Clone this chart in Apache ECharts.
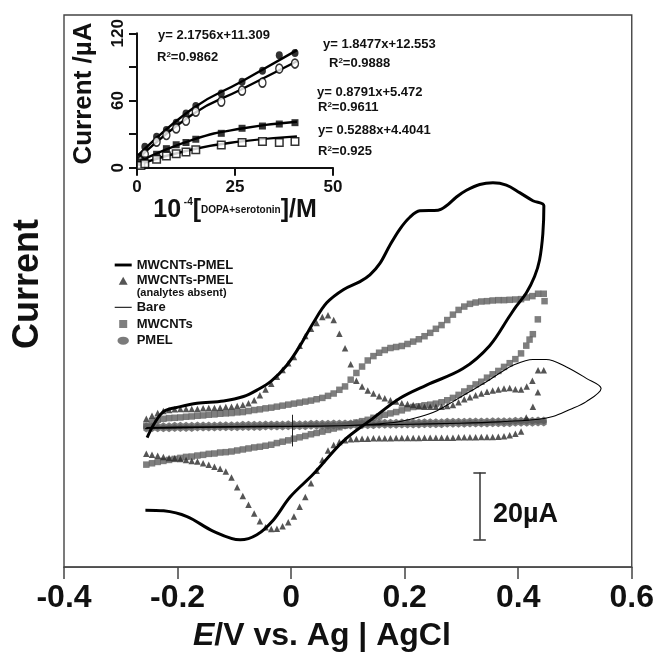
<!DOCTYPE html>
<html><head><meta charset="utf-8">
<script src="https://cdn.jsdelivr.net/npm/echarts@6/dist/echarts.min.js"></script>
<style>html,body{margin:0;padding:0;background:#fff}#c{width:657px;height:657px}</style>
</head><body><div id="c"></div><script>
const FONT = "'Liberation Sans', Arial, Helvetica, sans-serif";

// ---------- main CV plot ----------
const xTicks = [-0.4, -0.2, 0, 0.2, 0.4, 0.6];
const yRange = [-41.4, 122.4]; // µA

// thick line: MWCNTs-PMEL (with analytes), [E (V), I (µA)] in scan order
const cvMwcntPmel = [
 [-0.2536,-3.0],[-0.2420,0.9],[-0.2244,4.8],[-0.1951,6.2],[-0.1657,7.2],[-0.1190,7.9],[-0.0838,9.2],
 [-0.0603,11.1],[-0.0351,13.8],[-0.0076,18.5],[0.0158,24.3],[0.0392,31.1],[0.0627,37.0],[0.0919,40.9],
 [0.1213,43.3],[0.1388,45.3],[0.1564,48.7],[0.1740,54.1],[0.1916,58.9],[0.2091,62.4],[0.2267,64.3],
 [0.2589,64.5],[0.2736,65.8],[0.2912,68.4],[0.3088,70.4],[0.3322,72.1],[0.3555,72.6],[0.3791,71.9],
 [0.4025,69.7],[0.4258,67.3],[0.4452,65.8],
 [0.4434,57.5],[0.4376,49.7],[0.4288,44.8],[0.4142,39.9],[0.3967,36.0],[0.3849,33.1],[0.3497,24.3],
 [0.3028,17.5],[0.2385,12.6],[0.1916,8.7],[0.1446,2.8],[0.0919,-4.0],[0.0392,-13.8],[-0.0018,-20.6],
 [-0.0311,-27.4],[-0.0603,-31.8],[-0.0896,-33.3],[-0.1366,-30.8],[-0.1833,-26.4],[-0.2244,-24.7],[-0.2566,-24.5]
];

// potential grid of the marker series (V)
const scanV = [-0.255,-0.245,-0.235,-0.225,-0.215,-0.205,-0.195,-0.185,-0.175,-0.165,
 -0.155,-0.145,-0.135,-0.125,-0.115,-0.105,-0.095,-0.085,-0.075,-0.065,
 -0.055,-0.045,-0.035,-0.025,-0.015,-0.005,0.005,0.015,0.025,0.035,
 0.045,0.055,0.065,0.075,0.085,0.095,0.105,0.115,0.125,0.135,
 0.145,0.155,0.165,0.175,0.185,0.195,0.205,0.215,0.225,0.235,
 0.245,0.255,0.265,0.275,0.285,0.295,0.305,0.315,0.325,0.335,
 0.345,0.355,0.365,0.375,0.385,0.395,0.405,0.415,0.425,0.435,0.445];

// triangles: MWCNTs-PMEL, analytes absent
const triFwd = [2.6,3.5,4.3,4.9,5.2,5.4,5.5,5.5,5.5,5.5,
 5.7,5.8,5.8,5.9,6.1,6.2,6.4,6.7,7.2,8.1,
 9.6,11.3,13.0,15.1,17.1,19.1,20.9,24.3,27.2,29.3,
 31.0,32.8,33.3,31.9,27.8,23.5,18.8,13.9,12.2,11.0,
 10.1,9.3,8.7,8.1,7.7,7.2,7.0,6.7,6.4,6.2,
 6.2,6.2,6.2,6.4,6.7,7.5,8.4,9.0,9.6,10.1,
 10.6,11.0,11.3,11.6,11.7,11.4,11.3,12.2,13.9,17.0,17.0];
const triVertex = [[0.4346,10.5],[0.4258,6.2],[0.4142,3.0]];
const triRev = [-1.2,-1.8,-2.3,-2.6,-2.7,-2.8,-2.8,-2.8,-2.9,-2.9,
 -2.9,-2.9,-3.0,-3.0,-3.0,-3.0,-3.0,-3.0,-3.1,-3.1,
 -3.1,-3.1,-3.1,-3.2,-3.2,-3.2,-3.2,-3.3,-3.3,-3.4,
 -3.5,-3.8,-4.3,-5.2,-6.8,-9.6,-12.8,-16.5,-20.6,-23.5,
 -26.4,-28.1,-29.3,-30.0,-30.1,-29.6,-27.8,-25.5,-22.9,-20.3,
 -17.7,-14.8,-13.0,-12.2,-11.6,-11.0,-10.6,-10.1,-9.9,-9.6,
 -9.3,-9.1,-9.0,-8.7,-8.4,-8.1,-7.8];

// squares: MWCNTs
const sqFwd = [0.6,1.7,2.3,2.6,2.8,2.9,3.0,3.2,3.3,3.5,
 3.6,3.8,3.9,4.1,4.2,4.3,4.5,4.6,4.9,5.2,
 5.4,5.7,5.9,6.2,6.5,6.8,7.1,7.4,7.7,8.0,
 8.4,8.8,9.4,10.1,11.2,12.2,14.2,16.2,18.1,19.9,
 21.2,22.2,23.0,23.6,23.9,24.2,24.8,25.5,26.2,27.1,
 28.1,29.3,30.4,31.9,33.5,34.9,35.9,36.7,37.1,37.4,
 37.5,37.7,37.8,37.8,37.9,38.0,38.1,38.6,39.0,39.7,39.7];
const sqVertex = [[0.4464,37.5],[0.4346,32.1],[0.4258,27.7],[0.4200,26.1],[0.4142,24.3]];
const sqRev = [22.0,20.3,19.1,18.0,16.8,15.8,14.8,13.6,12.8,11.7,
 10.7,9.7,8.8,8.1,7.5,7.1,6.8,6.6,6.3,6.1,
 5.7,5.1,4.6,4.2,3.8,3.3,2.9,2.3,1.9,1.5,
 1.0,0.6,0.1,-0.3,-0.7,-1.2,-1.6,-2.0,-2.5,-2.9,
 -3.3,-3.8,-4.2,-4.6,-5.1,-5.4,-5.7,-5.9,-6.2,-6.5,
 -6.8,-7.1,-7.3,-7.4,-7.7,-7.8,-8.1,-8.3,-8.6,-8.7,
 -9.0,-9.3,-9.6,-9.9,-10.2,-10.6,-11.0];

// PMEL markers
const pmelFwd = [0.3,0.3,0.4,0.4,0.4,0.5,0.5,0.5,0.5,0.6,
 0.6,0.6,0.6,0.7,0.7,0.7,0.7,0.8,0.8,0.8,
 0.8,0.9,0.9,0.9,0.9,1.0,1.0,1.0,1.0,1.1,
 1.1,1.1,1.1,1.2,1.2,1.2,1.2,1.3,1.3,1.3,
 1.3,1.4,1.4,1.4,1.4,1.5,1.5,1.5,1.5,1.6,
 1.6,1.6,1.6,1.7,1.7,1.7,1.7,1.8,1.8,1.8,
 1.8,1.9,1.9,1.9,1.9,2.0,2.0,2.0,2.0,2.1,2.1];
const pmelRev = [1.5,1.5,1.4,1.4,1.4,1.4,1.3,1.3,1.3,1.3,
 1.2,1.2,1.2,1.2,1.1,1.1,1.1,1.1,1.0,1.0,
 1.0,1.0,0.9,0.9,0.9,0.9,0.8,0.8,0.8,0.8,
 0.7,0.7,0.7,0.7,0.6,0.6,0.6,0.6,0.5,0.5,
 0.5,0.5,0.4,0.4,0.4,0.4,0.3,0.3,0.3,0.3,
 0.2,0.2,0.2,0.2,0.1,0.1,0.1,0.1,0.0,0.0,
 0.0,0.0,-0.1,-0.1,-0.1,-0.1,-0.2,-0.2,-0.2,-0.2,-0.3];

// thin line: bare electrode
const cvBare = [
 [-0.255,0.0],[-0.2,0.15],[-0.1,0.3],[0.0,0.4],[0.1,0.6],[0.156,1.1],[0.192,1.8],[0.227,3.2],
 [0.257,5.0],[0.285,7.7],[0.315,10.7],[0.344,13.6],[0.367,16.1],[0.391,18.5],[0.426,20.2],
 [0.449,20.2],[0.485,18.0],[0.520,14.6],[0.546,11.6],
 [0.520,7.7],[0.490,5.3],[0.461,3.3],[0.426,2.3],[0.367,1.7],[0.297,1.3],[0.192,0.9],
 [0.104,0.6],[-0.002,0.3],[-0.16,0.0],[-0.257,-0.3]
];

// scale bar (20 µA) and small tick at E = 0
const scaleBarX = 0.332, scaleBarY = [-13.3, -33.3], scaleCap = 0.011;
const zeroTickY = [3.8, -5.6];

// ---------- inset ----------
const concX = [1, 2, 5, 7.5, 10, 12.5, 15, 21.5, 26.8, 32, 36.3, 40.3];
const filledCircleY = [10, 18.7, 27.6, 33.6, 40.2, 48.5, 55.1, 66.3, 76.7, 86.5, 100.4, 102.5];
const openCircleY   = [6, 12, 23.2, 29.2, 35.1, 41.9, 50, 59, 68.8, 75.9, 88.5, 93];
const filledSquareY = [5, 7, 12, 17, 20.5, 22.5, 25.4, 30.7, 35.2, 37.2, 39, 40.2];
const openSquareY   = [2, 3.5, 7.5, 10.5, 12.5, 14, 16, 20.3, 22.4, 23.3, 22.4, 23.3];
const fitFilledCircle = [[0.3,11],[14.3,53],[26.7,77],[40.8,105]];
const fitOpenCircle   = [[0.3,8],[14.3,48],[26.7,70],[40.8,95]];
const fitFilledSquare = [[0.3,5],[14.3,25],[26.7,35],[40.8,41]];
const fitOpenSquare   = [[0.3,3],[14.3,16.5],[26.7,23.5],[40.8,28]];
const equations = [
 ['y= 2.1756x+11.309', 158, 35], ['R{s|2}=0.9862', 157, 57],
 ['y= 1.8477x+12.553', 323, 44], ['R{s|2}=0.9888', 329, 63],
 ['y= 0.8791x+5.472', 317, 92], ['R{s|2}=0.9611', 318, 107.5],
 ['y= 0.5288x+4.4041', 318, 130.5], ['R{s|2}=0.925', 318, 151]
];

const zip = (xs, ys) => xs.map((x, i) => [x, ys[i]]);
const triData = zip(scanV, triFwd).concat(triVertex, zip(scanV.slice(0, triRev.length).reverse(), triRev));
const sqData = zip(scanV, sqFwd).concat(sqVertex, zip(scanV.slice(0, sqRev.length).reverse(), sqRev));
const pmelData = zip(scanV, pmelFwd).concat(zip(scanV.slice().reverse(), pmelRev));

const hexagon = 'path://M0,-1L0.8,-0.5L0.8,0.5L0,1L-0.8,0.5L-0.8,-0.5Z';
const bold = {fontFamily: FONT, fontWeight: 'bold', color: '#111'};
const segStyle = {color: '#333', width: 1.5, type: 'solid'};

const chart = echarts.init(document.getElementById('c'), null, {renderer: 'canvas'});
chart.setOption({
  animation: false,
  backgroundColor: '#fff',
  grid: [
    {left: 63.3, top: 15, width: 569, height: 565, show: true, borderColor: '#444', borderWidth: 1.4},
    {left: 137, top: 33.3, width: 196, height: 134.4}
  ],
  legend: [
    {orient: 'vertical', left: 114.7, top: 258, padding: 0, itemGap: 1.7, itemWidth: 17, itemHeight: 8,
     selectedMode: false,
     textStyle: Object.assign({fontSize: 13, lineHeight: 14}, bold),
     formatter: n => n.indexOf('absent') >= 0 ? 'MWCNTs-PMEL' : n,
     data: [{name: 'MWCNTs-PMEL', icon: 'path://M0,0h20v3.4h-20z'},
            {name: 'MWCNTs-PMEL (analytes absent)', icon: 'path://M5,0L10,9H0Z'}]},
    {orient: 'vertical', left: 114.7, top: 300.3, padding: 0, itemGap: 2.7, itemWidth: 17, itemHeight: 8,
     selectedMode: false,
     textStyle: Object.assign({fontSize: 13, lineHeight: 14}, bold),
     data: [{name: 'Bare', icon: 'path://M0,0h20v1.2h-20z'},
            {name: 'MWCNTs', icon: 'path://M0,0h8v8h-8z'},
            {name: 'PMEL', icon: 'path://M0,3.5a5,3.5 0 1,0 10,0a5,3.5 0 1,0 -10,0z'}]}
  ],
  xAxis: [
    {type: 'value', gridIndex: 0, min: xTicks[0], max: xTicks[xTicks.length - 1], interval: 0.2,
     axisLine: {show: true, onZero: false, lineStyle: {color: '#444', width: 1.5}},
     axisTick: {show: true, length: 12, lineStyle: {color: '#444', width: 1.5}},
     axisLabel: Object.assign({fontSize: 32, lineHeight: 34, margin: 14,
       formatter: v => (Math.abs(v) < 1e-9 ? '0' : String(+v.toFixed(1)))}, bold),
     splitLine: {show: false},
     name: '{i|E}{n|/V vs. Ag | AgCl}', nameLocation: 'middle', nameGap: 49,
     nameTextStyle: {padding: [0, 52, 0, 0], rich: {
       i: Object.assign({fontSize: 32, fontStyle: 'italic', lineHeight: 36}, bold),
       n: Object.assign({fontSize: 32, lineHeight: 36}, bold)}}},
    {type: 'value', gridIndex: 1, min: 0, max: 50, interval: 25,
     axisLine: {show: true, onZero: false, lineStyle: {color: '#111', width: 2}},
     axisTick: {show: true, length: 8, lineStyle: {color: '#111', width: 2}},
     axisLabel: Object.assign({fontSize: 17, lineHeight: 18, margin: 11}, bold),
     splitLine: {show: false},
     name: '{b|10}{s| -4}{b|[}{c|DOPA+serotonin}{b|]/M}', nameLocation: 'middle', nameGap: 26,
     nameTextStyle: {rich: {
       b: Object.assign({fontSize: 25, lineHeight: 26}, bold),
       s: Object.assign({fontSize: 10, lineHeight: 10, verticalAlign: 'top'}, bold),
       c: Object.assign({fontSize: 10, lineHeight: 12}, bold)}}}
  ],
  yAxis: [
    {type: 'value', gridIndex: 0, min: yRange[0], max: yRange[1],
     axisLine: {show: false}, axisTick: {show: false}, axisLabel: {show: false}, splitLine: {show: false},
     name: 'Current', nameLocation: 'middle', nameRotate: 90, nameGap: 16,
     nameTextStyle: Object.assign({fontSize: 36, lineHeight: 40, padding: [0, 0, 0, 14]}, bold)},
    {type: 'value', gridIndex: 1, min: 0, max: 120, interval: 30,
     axisLine: {show: true, onZero: false, lineStyle: {color: '#111', width: 2}},
     axisTick: {show: true, length: 8, lineStyle: {color: '#111', width: 2}},
     axisLabel: Object.assign({fontSize: 17, lineHeight: 18, margin: 10, rotate: 90,
       formatter: v => (v % 60 === 0 ? String(v) : '')}, bold),
     splitLine: {show: false},
     name: 'Current /µA', nameLocation: 'middle', nameRotate: 90, nameGap: 38,
     nameTextStyle: Object.assign({fontSize: 26, lineHeight: 30, padding: [0, 0, 0, 14]}, bold)}
  ],
  graphic: [
    {type: 'text', x: 136.7, y: 292.7, style: {text: '(analytes absent)', font: 'bold 11px ' + FONT, fill: '#111', verticalAlign: 'middle'}},
    {type: 'text', x: 493, y: 515, style: {text: '20µA', font: 'bold 27px ' + FONT, fill: '#111', verticalAlign: 'middle'}}
  ].concat(equations.map(e => ({type: 'text', x: e[1], y: e[2], z: 10,
    style: {text: e[0], font: 'bold 13px ' + FONT, fill: '#111', verticalAlign: 'middle',
      rich: {s: {font: 'bold 8px ' + FONT, fill: '#111', verticalAlign: 'top', lineHeight: 8}}}}))),
  series: [
    {name: 'PMEL', type: 'scatter', xAxisIndex: 0, yAxisIndex: 0, data: pmelData, symbol: hexagon,
     symbolSize: [6, 8], itemStyle: {color: '#5a5a5a'}, z: 2},
    {name: 'MWCNTs', type: 'scatter', xAxisIndex: 0, yAxisIndex: 0, data: sqData, symbol: 'rect',
     symbolSize: 6.5, itemStyle: {color: '#5e5e5e'}, z: 3},
    {name: 'MWCNTs-PMEL (analytes absent)', type: 'scatter', xAxisIndex: 0, yAxisIndex: 0, data: triData,
     symbol: 'triangle', symbolSize: 6.5, itemStyle: {color: '#2a2a2a'}, z: 4},
    {name: 'Bare', type: 'line', xAxisIndex: 0, yAxisIndex: 0, data: cvBare, smooth: 0.35, symbol: 'none',
     color: '#000', itemStyle: {color: '#000'}, lineStyle: {color: '#000', width: 1.1}, z: 5,
     markLine: {silent: true, symbol: ['none', 'none'], label: {show: false}, lineStyle: segStyle,
       emphasis: {disabled: true},
       data: [
         [{coord: [scaleBarX, scaleBarY[0]]}, {coord: [scaleBarX, scaleBarY[1]]}],
         [{coord: [scaleBarX - scaleCap, scaleBarY[0]]}, {coord: [scaleBarX + scaleCap, scaleBarY[0]]}],
         [{coord: [scaleBarX - scaleCap, scaleBarY[1]]}, {coord: [scaleBarX + scaleCap, scaleBarY[1]]}],
         [{coord: [0.002, zeroTickY[0]], lineStyle: {color: '#222', width: 1}}, {coord: [0.002, zeroTickY[1]]}]
       ]}},
    {name: 'MWCNTs-PMEL', type: 'line', xAxisIndex: 0, yAxisIndex: 0, data: cvMwcntPmel, smooth: 0.35,
     symbol: 'none', color: '#000', itemStyle: {color: '#000'}, lineStyle: {color: '#000', width: 3}, z: 6},
    // inset
    {type: 'line', xAxisIndex: 1, yAxisIndex: 1, data: fitFilledCircle, smooth: true, symbol: 'none', lineStyle: {color: '#000', width: 2.4}, z: 5},
    {type: 'line', xAxisIndex: 1, yAxisIndex: 1, data: fitOpenCircle, smooth: true, symbol: 'none', lineStyle: {color: '#000', width: 2.4}, z: 5},
    {type: 'line', xAxisIndex: 1, yAxisIndex: 1, data: fitFilledSquare, smooth: true, symbol: 'none', lineStyle: {color: '#000', width: 2.4}, z: 5},
    {type: 'line', xAxisIndex: 1, yAxisIndex: 1, data: fitOpenSquare, smooth: true, symbol: 'none', lineStyle: {color: '#000', width: 2.4}, z: 5},
    {type: 'scatter', xAxisIndex: 1, yAxisIndex: 1, data: zip(concX, filledCircleY), symbol: 'circle', symbolSize: [7, 8], itemStyle: {color: '#000'}, z: 6},
    {type: 'scatter', xAxisIndex: 1, yAxisIndex: 1, data: zip(concX, openCircleY), symbol: 'circle', symbolSize: [7, 9], itemStyle: {color: '#fff', borderColor: '#000', borderWidth: 1.5}, z: 6},
    {type: 'scatter', xAxisIndex: 1, yAxisIndex: 1, data: zip(concX, filledSquareY), symbol: 'rect', symbolSize: 7, itemStyle: {color: '#000'}, z: 6},
    {type: 'scatter', xAxisIndex: 1, yAxisIndex: 1, data: zip(concX, openSquareY), symbol: 'rect', symbolSize: 7.5, itemStyle: {color: '#fff', borderColor: '#000', borderWidth: 1.5}, z: 6}
  ]
});
</script></body></html>
